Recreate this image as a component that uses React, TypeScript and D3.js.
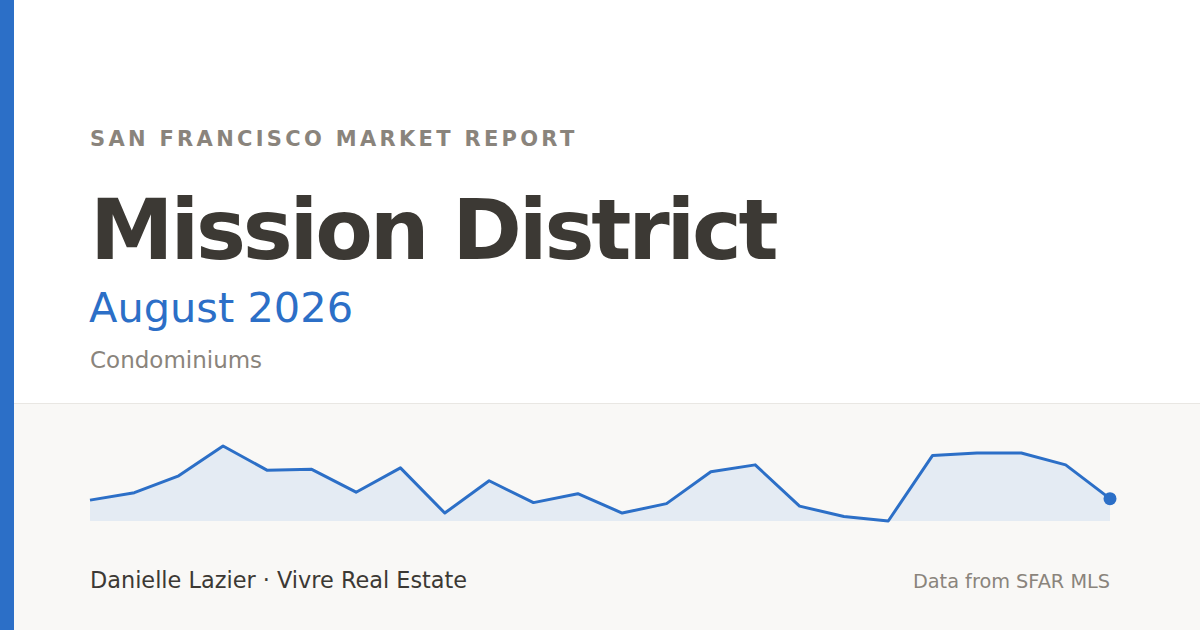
import { useEffect, useRef } from "react";
import * as d3 from "d3";

// Monthly median sale price, condos, Mission District ($K)
const months = [
  "Sep 2024", "Oct 2024", "Nov 2024", "Dec 2024", "Jan 2025", "Feb 2025",
  "Mar 2025", "Apr 2025", "May 2025", "Jun 2025", "Jul 2025", "Aug 2025",
  "Sep 2025", "Oct 2025", "Nov 2025", "Dec 2025", "Jan 2026", "Feb 2026",
  "Mar 2026", "Apr 2026", "May 2026", "Jun 2026", "Jul 2026", "Aug 2026",
];
const medianPrice = [
  822, 837, 871, 931, 882, 884, 838, 887, 796, 861, 817, 835,
  796, 815, 879, 893, 810, 789, 780, 912, 917, 917, 893, 825,
];

const eyebrow = "SAN FRANCISCO MARKET REPORT";
const title = "Mission District";
const period = "August 2026";
const propertyType = "Condominiums";
const byline = "Danielle Lazier · Vivre Real Estate";
const source = "Data from SFAR MLS";

const W = 1200;
const H = 630;
const BLUE = "#2c6fc7";
const INK = "#3c3934";
const MUTED = "#8a847c";
const FONT = "'DejaVu Sans', Verdana, sans-serif";

export default function App() {
  const ref = useRef<SVGSVGElement>(null);

  useEffect(() => {
    if (!ref.current) return;
    const svg = d3.select(ref.current);
    svg.selectAll("*").remove();

    // backgrounds
    svg.append("rect").attr("width", W).attr("height", H).attr("fill", "#ffffff");
    svg.append("rect").attr("y", 404).attr("width", W).attr("height", H - 404).attr("fill", "#f9f8f6");
    svg.append("line")
      .attr("x1", 0).attr("x2", W).attr("y1", 403.5).attr("y2", 403.5)
      .attr("stroke", "#e9e7e3").attr("stroke-width", 1);
    svg.append("rect").attr("width", 14).attr("height", H).attr("fill", BLUE);

    // header text
    svg.append("text")
      .attr("x", 90).attr("y", 146)
      .attr("font-family", FONT).attr("font-weight", "bold")
      .attr("font-size", 21).attr("letter-spacing", 3.3)
      .attr("fill", MUTED).text(eyebrow);

    svg.append("text")
      .attr("x", 90).attr("y", 259)
      .attr("font-family", FONT).attr("font-weight", "bold")
      .attr("font-size", 84).attr("letter-spacing", -3.2)
      .attr("fill", INK).text(title);

    svg.append("text")
      .attr("x", 89).attr("y", 322)
      .attr("font-family", FONT).attr("font-size", 41.5)
      .attr("fill", BLUE).text(period);

    svg.append("text")
      .attr("x", 90).attr("y", 368)
      .attr("font-family", FONT).attr("font-size", 23)
      .attr("fill", MUTED).text(propertyType);

    // sparkline
    const x = d3.scalePoint<string>().domain(months).range([90, 1110]);
    const [lo, hi] = d3.extent(medianPrice) as [number, number];
    const y = d3.scaleLinear().domain([lo, hi]).range([521, 446]);

    const pts = months.map((m, i) => ({ m, v: medianPrice[i] }));

    const area = d3.area<{ m: string; v: number }>()
      .x(d => x(d.m)!)
      .y0(y(lo))
      .y1(d => y(d.v));
    const line = d3.line<{ m: string; v: number }>()
      .x(d => x(d.m)!)
      .y(d => y(d.v));

    svg.append("path").attr("d", area(pts)!).attr("fill", "#e4ebf3");
    svg.append("path").attr("d", line(pts)!)
      .attr("fill", "none").attr("stroke", BLUE)
      .attr("stroke-width", 3).attr("stroke-linejoin", "round");

    const last = pts[pts.length - 1];
    svg.append("circle")
      .attr("cx", x(last.m)!).attr("cy", y(last.v))
      .attr("r", 6.5).attr("fill", BLUE);

    // footer
    svg.append("text")
      .attr("x", 90).attr("y", 588)
      .attr("font-family", FONT).attr("font-size", 22.4)
      .attr("fill", INK).text(byline);

    svg.append("text")
      .attr("x", 1110).attr("y", 588).attr("text-anchor", "end")
      .attr("font-family", FONT).attr("font-size", 19.3)
      .attr("fill", MUTED).text(source);
  }, []);

  return (
    <svg
      ref={ref}
      width={W}
      height={H}
      style={{ position: "fixed", left: 0, top: 0, display: "block" }}
    />
  );
}
